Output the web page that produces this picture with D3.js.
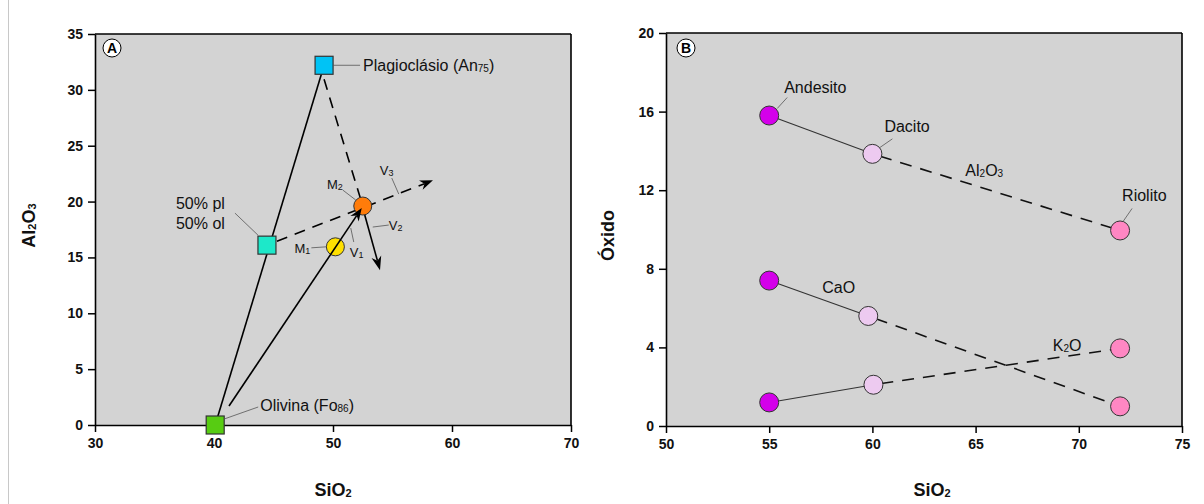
<!DOCTYPE html>
<html><head><meta charset="utf-8">
<script src="https://cdn.jsdelivr.net/npm/d3@7"></script>
<style>
body{margin:0;background:#fff;}
svg{display:block;font-family:"Liberation Sans",Arial,Helvetica,sans-serif;}
</style>
</head><body>
<svg id="chart" width="1204" height="504"></svg>
<script>
// ---------- Panel A data ----------
const mineralNames = ["Plagioclásio (An{75})", "50% pl|50% ol", "Olivina (Fo{86})"];
const mineralSiO2 = [49.25, 44.45, 40.1];
const mineralAl2O3 = [32.2, 16.1, 0.0];
const mineralColors = ["#00c3f5", "#1de8c9", "#57cc12"];
const meltNames = ["M{1}", "M{2}"];
const meltSiO2 = [50.2, 52.5];
const meltAl2O3 = [15.95, 19.6];
const meltColors = ["#ffe000", "#ff7c0a"];
const vectorNames = ["V{1}", "V{2}", "V{3}"];
const v1StartSiO2 = 41.26, v1StartAl2O3 = 1.7;
const v2EndSiO2 = 53.95, v2EndAl2O3 = 13.85;
const v3EndSiO2 = 58.4, v3EndAl2O3 = 21.9;
const xTicksA = [30, 40, 50, 60, 70];
const yTicksA = [0, 5, 10, 15, 20, 25, 30, 35];

// ---------- Panel B data ----------
const rockNames = ["Andesito", "Dacito", "Riolito"];
const rockColors = ["#d400ea", "#edcaf0", "#ff87c3"];
const al2o3SiO2 = [55, 60, 72];
const al2o3 = [15.8, 13.85, 9.95];
const caoSiO2 = [55, 59.8, 72];
const cao = [7.4, 5.6, 1.0];
const k2oSiO2 = [55, 60.05, 72];
const k2o = [1.2, 2.1, 3.95];
const oxideNames = ["Al{2}O{3}", "CaO", "K{2}O"];
const xTicksB = [50, 55, 60, 65, 70, 75];
const yTicksB = [0, 4, 8, 12, 16, 20];

const svg = d3.select("#chart");
svg.append("line").attr("x1", 8.5).attr("x2", 8.5).attr("y1", 0).attr("y2", 504)
  .attr("stroke", "#c8c8c8").attr("stroke-width", 1);

function rich(textSel, str, subSize) {
  const parts = str.split(/(\{[^}]*\})/).filter(s => s.length);
  let shifted = false;
  parts.forEach(p => {
    const t = textSel.append("tspan");
    if (p[0] === "{") {
      t.attr("font-size", subSize).attr("dy", shifted ? 0 : 1).text(p.slice(1, -1));
      shifted = true;
    } else {
      t.attr("dy", shifted ? -1 : 0).text(p);
      shifted = false;
    }
  });
  return textSel;
}
function label(g, x, y, str, size, anchor, weight, subSize) {
  const t = g.append("text").attr("x", x).attr("y", y).attr("font-size", size)
    .attr("text-anchor", anchor || "start").attr("font-weight", weight || "normal").attr("fill", "#111");
  rich(t, str, subSize || Math.round(size * 0.62));
  return t;
}
function leader(g, x1, y1, x2, y2) {
  g.append("line").attr("x1", x1).attr("y1", y1).attr("x2", x2).attr("y2", y2)
    .attr("stroke", "#555").attr("stroke-width", 0.8);
}
function arrowHead(g, x1, y1, x2, y2, len, hw) {
  const dx = x2 - x1, dy = y2 - y1, L = Math.hypot(dx, dy);
  const ux = dx / L, uy = dy / L, nx = -uy, ny = ux;
  const bx = x2 - ux * len, by = y2 - uy * len;
  const nxp = x2 - ux * len * 0.7, nyp = y2 - uy * len * 0.7;
  g.append("path").attr("d",
    `M${x2},${y2}L${bx + nx * hw},${by + ny * hw}L${nxp},${nyp}L${bx - nx * hw},${by - ny * hw}Z`)
    .attr("fill", "#000");
  return [nxp, nyp];
}
function frame(g, x, y, xTicks, yTicks) {
  const [x0, x1] = x.range(), [y0, y1] = y.range();
  g.append("rect").attr("x", x0).attr("y", y1).attr("width", x1 - x0).attr("height", y0 - y1)
    .attr("fill", "#d3d3d3");
  const ax = g.append("g").attr("transform", `translate(0,${y0})`)
    .call(d3.axisBottom(x).tickValues(xTicks).tickSize(7).tickPadding(6).tickSizeOuter(0));
  const ay = g.append("g").attr("transform", `translate(${x0},0)`)
    .call(d3.axisLeft(y).tickValues(yTicks).tickSize(7).tickPadding(5).tickSizeOuter(0));
  [ax, ay].forEach(a => {
    a.selectAll("path").attr("stroke", "#000").attr("stroke-width", 1.6);
    a.selectAll("line").attr("stroke", "#000").attr("stroke-width", 1.5);
    a.selectAll("text").attr("font-size", 14).attr("font-weight", "bold").attr("fill", "#111")
      .attr("font-family", "'Liberation Sans',Arial,sans-serif");
  });
  g.append("line").attr("x1", x0).attr("x2", x1).attr("y1", y1).attr("y2", y1)
    .attr("stroke", "#000").attr("stroke-width", 1.6);
  g.append("line").attr("x1", x1).attr("x2", x1).attr("y1", y1).attr("y2", y0)
    .attr("stroke", "#000").attr("stroke-width", 1.6);
}
function panelTag(g, x, y, letter) {
  g.append("circle").attr("cx", x).attr("cy", y).attr("r", 9).attr("fill", "#fff")
    .attr("stroke", "#000").attr("stroke-width", 1);
  g.append("text").attr("x", x).attr("y", y + 5).attr("text-anchor", "middle")
    .attr("font-size", 14).attr("font-weight", "bold").text(letter);
}

// ================= Panel A =================
const gA = svg.append("g");
const xA = d3.scaleLinear().domain([30, 70]).range([95, 571]);
const yA = d3.scaleLinear().domain([0, 35]).range([425, 34]);
frame(gA, xA, yA, xTicksA, yTicksA);
panelTag(gA, 112, 48, "A");

const P = mineralSiO2.map((s, i) => [xA(s), yA(mineralAl2O3[i])]);
const M = meltSiO2.map((s, i) => [xA(s), yA(meltAl2O3[i])]);

gA.append("line").attr("x1", P[2][0]).attr("y1", P[2][1]).attr("x2", P[0][0]).attr("y2", P[0][1])
  .attr("stroke", "#000").attr("stroke-width", 1.6);
gA.append("line").attr("x1", P[0][0]).attr("y1", P[0][1] + 14).attr("x2", M[1][0]).attr("y2", M[1][1])
  .attr("stroke", "#000").attr("stroke-width", 1.6).attr("stroke-dasharray", "11,8");
const v3e = [xA(v3EndSiO2), yA(v3EndAl2O3)];
const v3b = arrowHead(gA, P[1][0], P[1][1], v3e[0], v3e[1], 13, 5);
gA.append("line").attr("x1", P[1][0] + 10).attr("y1", P[1][1] - 4).attr("x2", v3b[0]).attr("y2", v3b[1])
  .attr("stroke", "#000").attr("stroke-width", 1.6).attr("stroke-dasharray", "11,8");

gA.selectAll("rect.min").data(P).join("rect").attr("class", "min")
  .attr("x", d => d[0] - 9).attr("y", d => d[1] - 9).attr("width", 18).attr("height", 18)
  .attr("fill", (d, i) => mineralColors[i]).attr("stroke", "#333").attr("stroke-width", 1.2);
gA.selectAll("circle.melt").data(M).join("circle").attr("class", "melt")
  .attr("cx", d => d[0]).attr("cy", d => d[1]).attr("r", 9)
  .attr("fill", (d, i) => meltColors[i]).attr("stroke", "#333").attr("stroke-width", 1);

const v1s = [xA(v1StartSiO2), yA(v1StartAl2O3)];
const v1b = arrowHead(gA, v1s[0], v1s[1], M[1][0] - 1, M[1][1] + 2, 13, 5);
gA.append("line").attr("x1", v1s[0]).attr("y1", v1s[1]).attr("x2", v1b[0]).attr("y2", v1b[1])
  .attr("stroke", "#000").attr("stroke-width", 1.6);
const v2e = [xA(v2EndSiO2), yA(v2EndAl2O3)];
const v2b = arrowHead(gA, M[1][0], M[1][1], v2e[0], v2e[1], 14, 5);
gA.append("line").attr("x1", M[1][0] + 2).attr("y1", M[1][1] + 9).attr("x2", v2b[0]).attr("y2", v2b[1])
  .attr("stroke", "#000").attr("stroke-width", 1.6);

leader(gA, P[0][0] + 9, P[0][1], P[0][0] + 36, P[0][1]);
label(gA, P[0][0] + 39, P[0][1] + 6, mineralNames[0], 16, "start", "normal", 10);
const pl = mineralNames[1].split("|");
leader(gA, P[1][0] - 9, P[1][1] - 10, P[1][0] - 32, P[1][1] - 32);
label(gA, P[1][0] - 91, P[1][1] - 36, pl[0], 16);
label(gA, P[1][0] - 91, P[1][1] - 16, pl[1], 16);
leader(gA, P[2][0] + 9, P[2][1] - 6, P[2][0] + 43, P[2][1] - 18);
label(gA, P[2][0] + 45, P[2][1] - 14, mineralNames[2], 16, "start", "normal", 10);

leader(gA, M[1][0] - 20, M[1][1] - 16, M[1][0] - 7, M[1][1] - 6);
label(gA, M[1][0] - 20, M[1][1] - 17, meltNames[1], 13, "end", "normal", 9);
leader(gA, M[0][0] - 24, M[0][1] + 1, M[0][0] - 9, M[0][1]);
label(gA, M[0][0] - 25, M[0][1] + 6, meltNames[0], 13, "end", "normal", 9);
leader(gA, M[1][0] - 12, M[1][1] + 22, M[1][0] - 9, M[1][1] + 36);
label(gA, M[1][0] - 13, M[1][1] + 51, vectorNames[0], 13, "start", "normal", 9);
leader(gA, M[1][0] + 10, M[1][1] + 21, M[1][0] + 26, M[1][1] + 19);
label(gA, M[1][0] + 26, M[1][1] + 24, vectorNames[1], 13, "start", "normal", 9);
leader(gA, M[1][0] + 29, M[1][1] - 28, M[1][0] + 36, M[1][1] - 12);
label(gA, M[1][0] + 17, M[1][1] - 31, vectorNames[2], 13, "start", "normal", 9);

label(gA, (xA.range()[0] + xA.range()[1]) / 2, 496, "SiO{2}", 18, "middle", "bold", 11);
label(gA, 0, 0, "Al{2}O{3}", 18, "middle", "bold", 11)
  .attr("transform", `translate(35,${(yA.range()[0] + yA.range()[1]) / 2 - 4}) rotate(-90)`);

// ================= Panel B =================
const gB = svg.append("g");
const xB = d3.scaleLinear().domain([50, 75]).range([666, 1182]);
const yB = d3.scaleLinear().domain([0, 20]).range([426, 33]);
frame(gB, xB, yB, xTicksB, yTicksB);
panelTag(gB, 686, 48, "B");

const series = [
  al2o3SiO2.map((s, i) => [xB(s), yB(al2o3[i])]),
  caoSiO2.map((s, i) => [xB(s), yB(cao[i])]),
  k2oSiO2.map((s, i) => [xB(s), yB(k2o[i])])
];
series.forEach(pts => {
  gB.append("line").attr("x1", pts[0][0]).attr("y1", pts[0][1]).attr("x2", pts[1][0]).attr("y2", pts[1][1])
    .attr("stroke", "#333").attr("stroke-width", 1.1);
  gB.append("line").attr("x1", pts[1][0]).attr("y1", pts[1][1]).attr("x2", pts[2][0]).attr("y2", pts[2][1])
    .attr("stroke", "#111").attr("stroke-width", 1.6).attr("stroke-dasharray", "12,9").attr("stroke-dashoffset", -8);
});
series.forEach(pts => {
  gB.selectAll(null).data(pts).join("circle")
    .attr("cx", d => d[0]).attr("cy", d => d[1]).attr("r", 9.5)
    .attr("fill", (d, i) => rockColors[i]).attr("stroke", "#333").attr("stroke-width", 1);
});

const A0 = series[0];
leader(gB, A0[0][0] + 8, A0[0][1] - 7, A0[0][0] + 18, A0[0][1] - 18);
label(gB, A0[0][0] + 15, A0[0][1] - 23, rockNames[0], 16);
leader(gB, A0[1][0] + 7, A0[1][1] - 6, A0[1][0] + 20, A0[1][1] - 15);
label(gB, A0[1][0] + 12, A0[1][1] - 22, rockNames[1], 16);
leader(gB, A0[2][0] + 3, A0[2][1] - 9, A0[2][0] + 12, A0[2][1] - 22);
label(gB, A0[2][0] + 2, A0[2][1] - 29, rockNames[2], 16);
label(gB, (A0[1][0] + A0[2][0]) / 2 - 12, (A0[1][1] + A0[2][1]) / 2 - 16, oxideNames[0], 16, "middle", "normal", 10);
const C0 = series[1];
label(gB, (C0[0][0] + C0[1][0]) / 2 + 20, (C0[0][1] + C0[1][1]) / 2 - 5, oxideNames[1], 16, "middle");
const K0 = series[2];
label(gB, K0[2][0] - 53, K0[2][1] + 3, oxideNames[2], 16, "middle", "normal", 10);

label(gB, (xB.range()[0] + xB.range()[1]) / 2 + 8, 496, "SiO{2}", 18, "middle", "bold", 11);
gB.append("text").attr("font-size", 18).attr("font-weight", "bold").attr("text-anchor", "middle")
  .attr("fill", "#111")
  .attr("transform", `translate(614,${(yB.range()[0] + yB.range()[1]) / 2 + 6}) rotate(-90)`).text("Óxido");
</script>
</body></html>
